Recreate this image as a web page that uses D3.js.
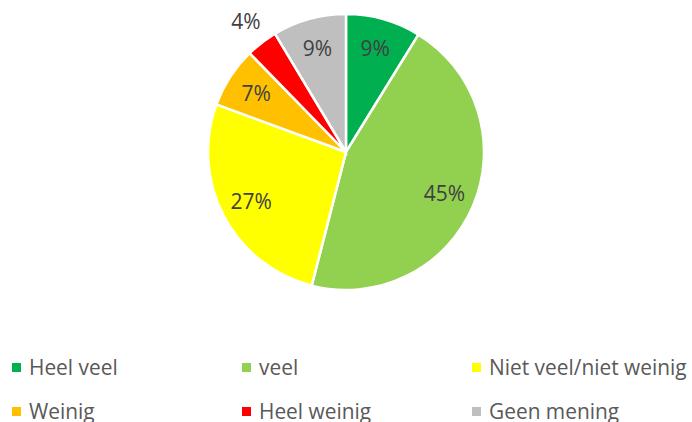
<!DOCTYPE html>
<html>
<head>
<meta charset="utf-8">
<script src="https://cdn.jsdelivr.net/npm/d3@7"></script>
<style>
  body { margin: 0; background: #fff; }
  svg { display: block; }
  text { font-family: "Open Sans", sans-serif; }
</style>
</head>
<body>
<svg id="chart" width="692" height="422"></svg>
<script>
// categories and shares (percent)
const categories = ['Heel veel', 'veel', 'Niet veel/niet weinig', 'Weinig', 'Heel weinig', 'Geen mening']
const values = [8.8, 45.2, 26.6, 7.1, 3.7, 8.6]
const colors = ['#00B050', '#92D050', '#FFFF00', '#FFC000', '#FF0000', '#BFBFBF']

const cx = 346
const cy = 152
const radius = 138

const svg = d3.select('#chart')

const data = categories.map((c, i) => ({ name: c, value: values[i], color: colors[i] }))

const pie = d3.pie()
  .value(d => d.value)
  .sort(null)

const arc = d3.arc().innerRadius(0).outerRadius(radius)
const labelArc = d3.arc().innerRadius(107).outerRadius(107)
const outerLabelArc = d3.arc().innerRadius(164).outerRadius(164)

const g = svg.append('g').attr('transform', `translate(${cx},${cy})`)

const arcs = pie(data)

g.selectAll('.slice')
  .data(arcs)
  .enter()
  .append('path')
  .attr('class', 'slice')
  .attr('d', arc)
  .attr('fill', d => d.data.color)
  .attr('stroke', '#fff')
  .attr('stroke-width', 2.5)

// percentage labels, small slices get their label outside
g.selectAll('.label')
  .data(arcs)
  .enter()
  .append('text')
  .attr('class', 'label')
  .attr('transform', d => {
    const p = d.data.value < 5 ? outerLabelArc.centroid(d) : labelArc.centroid(d)
    return `translate(${p[0]},${p[1]})`
  })
  .attr('text-anchor', 'middle')
  .attr('dy', '0.35em')
  .attr('font-size', 21)
  .attr('fill', '#404040')
  .text(d => Math.round(d.data.value) + '%')

// legend: 3 columns, 2 rows
const colX = d3.scaleOrdinal().domain([0, 1, 2]).range([12, 242, 472])
const rowY = d3.scaleOrdinal().domain([0, 1]).range([375, 419])

const legend = svg.selectAll('.legend')
  .data(data)
  .enter()
  .append('g')
  .attr('class', 'legend')
  .attr('transform', (d, i) => `translate(${colX(i % 3)},${rowY(Math.floor(i / 3))})`)

legend.append('rect')
  .attr('x', 0)
  .attr('y', -12)
  .attr('width', 9)
  .attr('height', 9)
  .attr('fill', d => d.color)

legend.append('text')
  .attr('transform', 'translate(17,0) scale(0.95,1)')
  .attr('font-size', 22)
  .attr('fill', '#595959')
  .text(d => d.name)
</script>
</body>
</html>
